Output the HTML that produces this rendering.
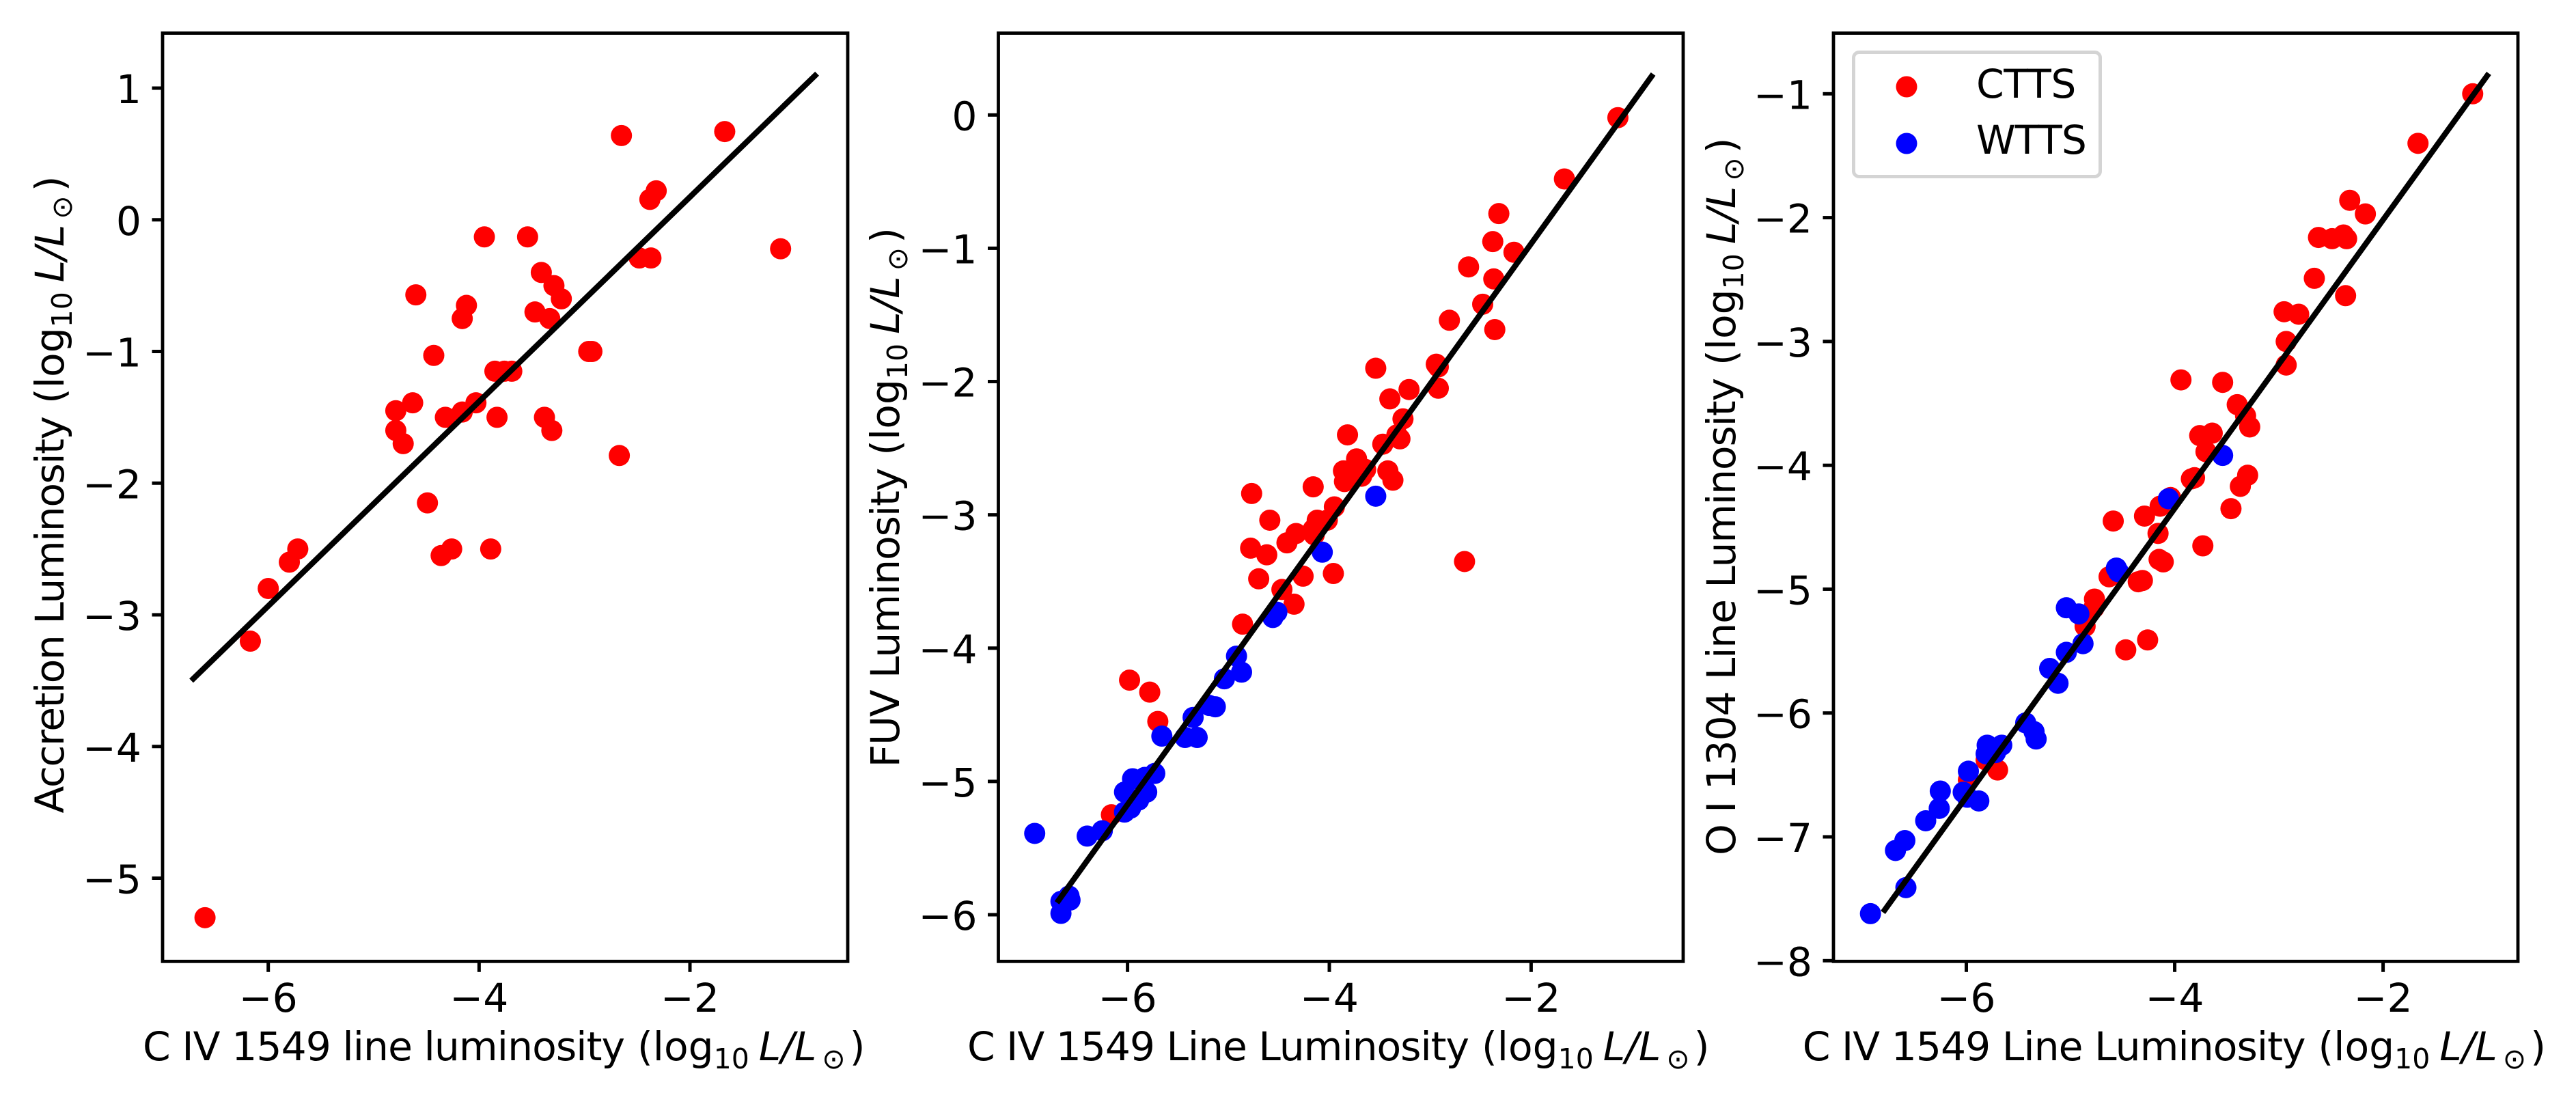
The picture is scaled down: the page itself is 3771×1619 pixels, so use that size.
<!DOCTYPE html>
<html>
<head>
<meta charset="utf-8">
<title>C IV luminosity correlations</title>
<style>
html,body{margin:0;padding:0;background:#fff;}
svg{display:block;}
text{font-family:"DejaVu Sans","Liberation Sans",sans-serif;font-size:58.3px;fill:#000;}
.sub{font-size:41px;}
.it{font-style:italic;}
</style>
</head>
<body>
<svg id="fig" xmlns="http://www.w3.org/2000/svg" width="3771" height="1619" viewBox="0 0 3771 1619">
  <rect x="0" y="0" width="3771" height="1619" fill="#fff"/>
  <g id="p1"></g>
  <g id="p2"></g>
  <g id="p3"></g>

  <text x="209" y="1552" textLength="706" lengthAdjust="spacing">C IV 1549 line luminosity</text>
  <text x="933" y="1552">(log<tspan class="sub" dy="12">10</tspan><tspan class="it" dy="-12" dx="14">L/L</tspan><tspan class="sub" dy="12" dx="8">&#8857;</tspan><tspan dy="-12" dx="6">)</tspan></text>
  <text x="1416" y="1552" textLength="735" lengthAdjust="spacing">C IV 1549 Line Luminosity</text>
  <text x="2169" y="1552">(log<tspan class="sub" dy="12">10</tspan><tspan class="it" dy="-12" dx="14">L/L</tspan><tspan class="sub" dy="12" dx="8">&#8857;</tspan><tspan dy="-12" dx="6">)</tspan></text>
  <text x="2638.7" y="1552" textLength="736.8" lengthAdjust="spacing">C IV 1549 Line Luminosity</text>
  <text x="3393.5" y="1552">(log<tspan class="sub" dy="12">10</tspan><tspan class="it" dy="-12" dx="14">L/L</tspan><tspan class="sub" dy="12" dx="8">&#8857;</tspan><tspan dy="-12" dx="6">)</tspan></text>

  <text transform="translate(93,1190.5) rotate(-90)" textLength="581.5" lengthAdjust="spacing">Accretion Luminosity</text>
  <text transform="translate(93,591) rotate(-90)">(log<tspan class="sub" dy="12">10</tspan><tspan class="it" dy="-12" dx="14">L/L</tspan><tspan class="sub" dy="12" dx="8">&#8857;</tspan><tspan dy="-12" dx="6">)</tspan></text>
  <text transform="translate(1316,1123.4) rotate(-90)" textLength="438.7" lengthAdjust="spacing">FUV Luminosity</text>
  <text transform="translate(1316,666.7) rotate(-90)">(log<tspan class="sub" dy="12">10</tspan><tspan class="it" dy="-12" dx="14">L/L</tspan><tspan class="sub" dy="12" dx="8">&#8857;</tspan><tspan dy="-12" dx="6">)</tspan></text>
  <text transform="translate(2540,1252) rotate(-90)" textLength="699" lengthAdjust="spacing">O I 1304 Line Luminosity</text>
  <text transform="translate(2540,535) rotate(-90)">(log<tspan class="sub" dy="12">10</tspan><tspan class="it" dy="-12" dx="14">L/L</tspan><tspan class="sub" dy="12" dx="8">&#8857;</tspan><tspan dy="-12" dx="6">)</tspan></text>

  <g>
    <rect x="2713.5" y="76.5" width="361" height="182" rx="8" ry="8" fill="#fff" fill-opacity="0.8" stroke="#d4d4d4" stroke-width="5"/>
    <circle cx="2791" cy="127" r="15.5" fill="#f00"/>
    <text x="2893" y="143" style="letter-spacing:-0.5px">CTTS</text>
    <circle cx="2791" cy="210" r="15.5" fill="#00f"/>
    <text x="2893" y="225" style="letter-spacing:-1px">WTTS</text>
  </g>
</svg>

<script>
// Panel 1: accretion luminosity vs C IV
const accretionX = [-6.6,-6.17,-6.0,-5.8,-5.72,-4.49,-4.36,-4.26,-3.89,-4.79,-4.79,-4.72,-4.63,-4.6,-4.43,-4.32,-4.16,-4.03,-3.83,-4.16,-4.12,-3.95,-3.54,-3.85,-3.76,-3.69,-3.47,-3.41,-3.33,-3.29,-3.22,-3.38,-3.31,-2.67,-2.65,-2.96,-2.93,-2.48,-2.37,-2.38,-2.32,-1.67,-1.14];
const accretionY = [-5.3,-3.2,-2.8,-2.6,-2.5,-2.15,-2.55,-2.5,-2.5,-1.45,-1.6,-1.7,-1.39,-0.57,-1.03,-1.5,-1.46,-1.39,-1.5,-0.75,-0.65,-0.13,-0.13,-1.15,-1.15,-1.15,-0.7,-0.4,-0.75,-0.5,-0.6,-1.5,-1.6,-1.79,0.64,-1.0,-1.0,-0.29,-0.29,0.155,0.22,0.67,-0.22];
const accretionFitX = [-6.73,-0.794];
const accretionFitY = [-3.5,1.11];
const accretionXTicks = [-6,-4,-2];
const accretionYTicks = [1,0,-1,-2,-3,-4,-5];

// Panel 2: FUV luminosity vs C IV
const fuvRedX = [-6.16,-5.98,-5.78,-5.70,-4.86,-4.77,-4.78,-4.70,-4.62,-4.59,-4.47,-4.42,-4.35,-4.33,-4.26,-4.16,-4.15,-4.12,-4.16,-4.02,-3.96,-3.95,-3.86,-3.85,-3.82,-3.76,-3.73,-3.68,-3.64,-3.54,-3.47,-3.42,-3.40,-3.37,-3.33,-3.30,-3.27,-3.21,-2.94,-2.92,-2.92,-2.81,-2.66,-2.62,-2.48,-2.38,-2.36,-2.37,-2.32,-2.17,-1.67,-1.14];
const fuvRedY = [-5.25,-4.24,-4.33,-4.55,-3.82,-2.84,-3.25,-3.48,-3.30,-3.04,-3.56,-3.21,-3.67,-3.14,-3.46,-3.11,-3.15,-3.04,-2.79,-3.04,-3.44,-2.94,-2.67,-2.75,-2.40,-2.69,-2.58,-2.71,-2.66,-1.90,-2.47,-2.67,-2.13,-2.74,-2.40,-2.43,-2.28,-2.06,-1.87,-1.89,-2.05,-1.54,-3.35,-1.14,-1.42,-0.95,-1.61,-1.23,-0.74,-1.03,-0.48,-0.02];
const fuvBlueX = [-6.92,-6.66,-6.66,-6.58,-6.57,-6.40,-6.25,-6.03,-6.03,-5.97,-5.95,-5.89,-5.81,-5.83,-5.73,-5.66,-5.43,-5.35,-5.31,-5.19,-5.13,-5.04,-4.92,-4.87,-4.56,-4.52,-4.07,-3.54];
const fuvBlueY = [-5.39,-5.90,-5.99,-5.86,-5.89,-5.41,-5.37,-5.08,-5.23,-5.20,-4.98,-5.14,-5.08,-4.97,-4.94,-4.66,-4.67,-4.52,-4.67,-4.43,-4.44,-4.23,-4.06,-4.18,-3.77,-3.73,-3.28,-2.86];
const fuvFitX = [-6.70,-0.79];
const fuvFitY = [-5.91,0.307];
const fuvXTicks = [-6,-4,-2];
const fuvYTicks = [0,-1,-2,-3,-4,-5,-6];

// Panel 3: O I 1304 luminosity vs C IV
const oiRedX = [-1.14,-1.665,-2.32,-2.17,-2.62,-2.49,-2.38,-2.35,-2.66,-2.36,-2.95,-2.81,-2.93,-2.93,-3.94,-3.54,-3.40,-3.32,-3.28,-3.76,-3.64,-3.70,-3.84,-3.81,-3.30,-3.37,-3.46,-4.04,-4.14,-4.29,-4.59,-4.16,-4.15,-4.11,-3.73,-4.63,-4.35,-4.31,-4.77,-4.775,-4.86,-4.47,-4.26,-5.70,-5.81,-5.98];
const oiRedY = [-1.0,-1.40,-1.86,-1.97,-2.16,-2.17,-2.14,-2.17,-2.49,-2.63,-2.76,-2.78,-3.0,-3.19,-3.31,-3.33,-3.51,-3.60,-3.69,-3.76,-3.74,-3.89,-4.11,-4.10,-4.08,-4.17,-4.35,-4.26,-4.33,-4.41,-4.45,-4.55,-4.76,-4.78,-4.65,-4.90,-4.94,-4.93,-5.08,-5.15,-5.30,-5.49,-5.41,-6.46,-6.38,-6.54];
const oiBlueX = [-6.92,-6.58,-6.68,-6.59,-6.39,-6.26,-6.25,-6.03,-5.98,-5.99,-5.88,-5.81,-5.80,-5.66,-5.72,-5.43,-5.35,-5.33,-5.2,-5.12,-5.04,-4.88,-5.04,-4.92,-4.56,-4.54,-4.06,-3.54];
const oiBlueY = [-7.62,-7.41,-7.11,-7.03,-6.87,-6.77,-6.63,-6.64,-6.47,-6.68,-6.71,-6.33,-6.26,-6.26,-6.32,-6.08,-6.15,-6.21,-5.64,-5.76,-5.51,-5.44,-5.15,-5.2,-4.83,-4.86,-4.27,-3.92];
const oiFitX = [-6.80,-0.985];
const oiFitY = [-7.61,-0.835];
const oiXTicks = [-6,-4,-2];
const oiYTicks = [-1,-2,-3,-4,-5,-6,-7,-8];

const SVG_NS = 'http://www.w3.org/2000/svg';
const AXES_TOP = 48.5, AXES_BOTTOM = 1407.3;

function make(parent, tag, attrs) {
  const el = document.createElementNS(SVG_NS, tag);
  for (const k in attrs) el.setAttribute(k, attrs[k]);
  parent.appendChild(el);
  return el;
}
function linear(d0, p0, d1, p1) {
  return function (v) { return p0 + (v - d0) * (p1 - p0) / (d1 - d0); };
}
function tickText(v) {
  return (v < 0 ? '\u2212' : '') + Math.abs(v);
}

function drawPanel(g, cfg) {
  const sx = cfg.sx, sy = cfg.sy;

  cfg.series.forEach(function (s) {
    s.xs.forEach(function (xv, i) {
      const c = make(g, 'circle', { cx: sx(xv), cy: sy(s.ys[i]), r: 15.5, fill: s.color });
      
      
    });
  });

  const fit = make(g, 'line', {
    x1: sx(cfg.fitX[0]), y1: sy(cfg.fitY[0]),
    x2: sx(cfg.fitX[1]), y2: sy(cfg.fitY[1]),
    stroke: '#000', 'stroke-width': 8.3
  });
  
  

  const frame = make(g, 'rect', {
    x: cfg.left, y: AXES_TOP, width: cfg.right - cfg.left, height: AXES_BOTTOM - AXES_TOP,
    fill: 'none', stroke: '#000', 'stroke-width': 4.8
  });
  
  

  cfg.xTicks.forEach(function (v) {
    const px = sx(v);
    const t = make(g, 'line', { x1: px, y1: AXES_BOTTOM, x2: px, y2: AXES_BOTTOM + 15.5, stroke: '#000', 'stroke-width': 5 });
    
    
    const l = make(g, 'text', { x: px, y: 1481, 'text-anchor': 'middle' });
    
    
    l.textContent = tickText(v);
  });

  cfg.yTicks.forEach(function (v) {
    const py = sy(v);
    const t = make(g, 'line', { x1: cfg.left - 15.5, y1: py, x2: cfg.left, y2: py, stroke: '#000', 'stroke-width': 5 });
    
    
    const l = make(g, 'text', { x: cfg.left - 31, y: py + 22, 'text-anchor': 'end' });
    
    
    l.textContent = tickText(v);
  });
}

drawPanel(document.getElementById('p1'), {
  left: 238, right: 1241,
  sx: linear(-6, 392.7, -2, 1010),
  sy: linear(1, 129, -5, 1285.5),
  series: [{ name: 'ctts', color: '#f00', xs: accretionX, ys: accretionY }],
  fitX: accretionFitX, fitY: accretionFitY,
  xTicks: accretionXTicks, yTicks: accretionYTicks
});
drawPanel(document.getElementById('p2'), {
  left: 1461.5, right: 2464,
  sx: linear(-6, 1650.6, -2, 2241.4),
  sy: linear(0, 168.3, -6, 1339),
  series: [
    { name: 'ctts', color: '#f00', xs: fuvRedX, ys: fuvRedY },
    { name: 'wtts', color: '#00f', xs: fuvBlueX, ys: fuvBlueY }
  ],
  fitX: fuvFitX, fitY: fuvFitY,
  xTicks: fuvXTicks, yTicks: fuvYTicks
});
drawPanel(document.getElementById('p3'), {
  left: 2684, right: 3686,
  sx: linear(-6, 2878.5, -2, 3488.6),
  sy: linear(-1, 137.3, -8, 1406.3),
  series: [
    { name: 'ctts', color: '#f00', xs: oiRedX, ys: oiRedY },
    { name: 'wtts', color: '#00f', xs: oiBlueX, ys: oiBlueY }
  ],
  fitX: oiFitX, fitY: oiFitY,
  xTicks: oiXTicks, yTicks: oiYTicks
});
</script>
</body>
</html>
